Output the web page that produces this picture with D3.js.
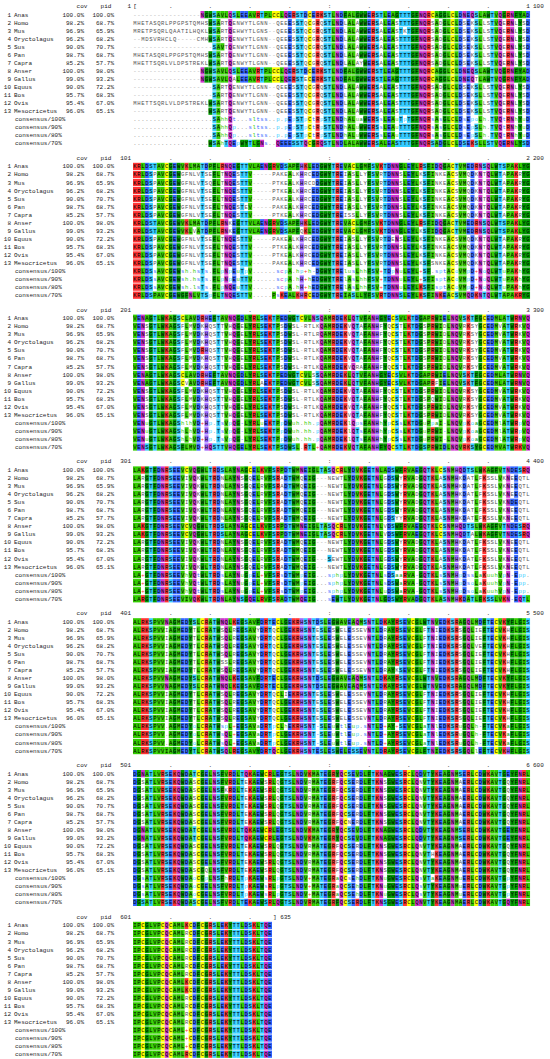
<!DOCTYPE html>
<html>
<head>
<meta charset="utf-8">
<script src="https://cdn.jsdelivr.net/npm/d3@7"></script>
<style>
  body { margin: 0; background: #fff; }
</style>
</head>
<body>
<div id="wrapper"></div>
<script>
// ---- data ----
const names = ["Anas","Homo","Mus","Oryctolagus","Sus","Pan","Capra","Anser","Gallus","Equus","Bos","Ovis","Mesocricetus"];
const cov = ["100.0%","98.2%","96.9%","96.2%","90.0%","98.7%","85.2%","100.0%","99.0%","90.0%","95.7%","95.4%","96.0%"];
const pid = ["100.0%","68.7%","65.9%","68.2%","70.7%","68.7%","57.7%","98.0%","93.2%","72.2%","68.3%","67.0%","65.1%"];
const consensusLabels = ["consensus/100%","consensus/90%","consensus/80%","consensus/70%"];
const thresholds = [1.0, 0.9, 0.8, 0.7];
const blockStarts = [1, 101, 201, 301, 401, 501, 601];
const alnLength = 635;

// sequences, one string per block of 100 columns ("." = same as Anas)
const Anas = [
  "---------- -------NGW SAVLQSLEEA VRTPLCCLQE RSTDCERKST LNDFALGWWE RSTLEAGTTT GFNQRCAGGL CLDNEQSLAW TVQGRNFYAD",
  "KRLDSTAVCG EWVKLMATDP FLRNQEGTTV LAENGRVDSA PFHKLEDGWY TREVACLGMF SVKTDNNGLE YLRSFIDQGA CTVMEDRNSQ LWTSPAKLYG",
  "VENAGTLWKA GSCLAVDRHE FTAVNQGDLY RLSEKTPEDW GTCVLNSQAM RDEKLQTVFA NHGYECSVLK TDGAPRWIEL NQVSKTFGCE DMLATWRNVQ",
  "LAKGTFDNRS EEVCVQGWLT RDSLAYNAGC ELKVFSRPDT WMNEIGLTAS QCRLYDVKGE TNLADSWFRV AEGQTKLCSN MHQDTSLWKA GFVTNDESRQ",
  "ALRKSPVVNA GMEDYSLCRA TWNQLKEGSA VFDRTECLGE KRHSNTDSLE GWAVEAQMSN TLDKAYRSEV CGLWTNVEDK SRAGQLMDFT ECVKYFLGIS",
  "DGNATLVRSE KQWDATCGEL NSFVRDLTQK AEWCRLEGTS LNDVKMATEG RYQCSEVDLF TKNAGWESRC LQDVTYKEAG NMSERLCDWK AVTGEYFNRL",
  "IPCGLVPCQC AMLKCDFCGR SLEKYTTLDS KLTQE"
];
const Homo = [
  "MHETASQRLP PGPSTQMHS. ..RT.ENWYT LGNN--QEE. S..Q.G.Q.. ...L..A... ..A...S... .....S.D.. ...S.K..LS ...E..L.S.",
  ".....P.... ..GFNLV.SE ..T...S... -----PAKE. LK.RCE.... ...I.S.LY. ..R....S.. ..K...NKE. .S..Q.K.T. ...A...R..",
  "...S...... ..F.M..K.Q S.T.H..E.. .......S.. SL-RTLK... ....V..A.. ..F.Q..T.. ...S....D. ...R.SY... ..V....K..",
  "..R....... ...I..K... ..N....S.Q ..R....A.. ..Q...---N EWT....... ...G...Y.. .D.....A.. ..K.AT.F.S SL.K.E.QTL",
  "........I. .....T.... ..S..R.... .Y...Q.... ......E... S.EL.SSEV. ...R...... ...F..I... ..S...IE.. ....H.....",
  "..S....... .....S.... ........E. ...S..Q... ....R..... .F....R... ...S...... ..N....... ..A....... ....Q.....",
  ".......... ...R...... .......... ....."
];
const Mus = [
  "MRETPSQRLQ AATILHQKL. ..RT.EHWYT LGNS--QEE. S..Q.G.Q.. ...L..A... ..A...S.K. .....S.D.. ...S.K..LS ...E..L.S.",
  ".....P.... ..GFNLV.SQ ..T...S... -----PTKE. LK.RCD.... ...I.S.LY. ..R....S.. ..K...NKE. .S..Q.K.T. ...A...R..",
  "...S...... ..F.M..K.Q S.T.H..E.. .......S.. SL-RTLR... ....V..A.. ..F.Q..T.. ...S....D. ...R.SY... ..V....K..",
  "..R....... ...I..K... ..N....S.Q ..R....A.. ..Q...---N EWT....... ...G...Y.. .D.....A.. ..K.AT.F.S SL.K.E.QTL",
  "........I. .....T.... ..S..R.... .Y...Q.... ......E... S.EL.SSEV. ...R...... ...F..I... ..S...IE.. ....H.....",
  "..S....... .....S.... ...K....E. ...S..Q... ....R..... .F....R... ...S...... ..N....... ..A....... ....Q.....",
  ".......... ...R...... .......... ....."
];
const Oryctolagus = [
  "--MDSVRHCL Q-----CMH. ..RT.ENWYT LGNN--QEE. S..Q.G.Q.. ...L..A... ..A...S... .....S.D.. ...S.K..LS ...E..L.S.",
  ".....P.... ..GFNLV.SE ..T...S... -----PTKE. LK.RCE.... ...I.S.LY. ..R....S.. ..K...NKE. .S..Q.K.T. ...A...R..",
  "...S...... ..F.M..K.Q S.T.H..E.. .......S.. SL-RTLK... ....V..A.. ..F.Q..T.. ...S....D. ...R.SY... ..V....K..",
  "..R....... ...I..K... ..N....S.Q ..R....A.. ..Q...---N EWT....... ...G...Y.. .D.....A.. ..K.ATLF.S SL.K.E.QTL",
  "........I. .....T.... ..S..R.... .Y...Q.... ......E... S.EL.SSEV. ...R...... ...F..I... ..S...VE.. ....H.....",
  "..S....... .....S.... ........E. ...S..Q... ....R..... .F....R... ...S...... ..N....... ..A....... ....Q.....",
  ".......... ...R...... .......... ....."
];
const Sus = [
  "---------- ---------- ...T.ENWYT LGNN--QEE. S..Q.G.Q.. ...L..A... ..A...S... .....S.D.. ...S.K..LS ...E..L.S.",
  ".....P.... ..GFNLV.SE ..T...S... -----PAKE. LK.RCE.... ...I.S.LY. ..R....S.. ..K...NKE. .S..Q.K.T. ...A...R..",
  "...S...... ..F.M..R.Q S.T.H..E.. .......S.. SL-RTLK... ....V..A.. ..F.Q..T.. ...S....D. ...R.SY... ..V....K..",
  "..R....... ...I..K... ..N....S.Q ..R....A.. ..Q...---N EWT....... ...G...Y.. .D.....A.. ..K.AT.F.S SL.K.D.QTL",
  "........I. .....T.... ..S..R.... .Y...Q.... ......E... S.EL.SSEV. ...R...... ...F..I... ..S...IE.. ....H.....",
  "..S....... .....S.... ........E. ...S..Q... ....R..... .F....R... ...S...... ..N....... ..A....... ....Q.....",
  ".......... ...R...... .......... ....."
];
const Pan = [
  "MHETASQRLP PGPSTQMHS. ..RT.ENWYT LGNN--QEE. S..Q.G.Q.. ...L..A... ..A...S... .....S.D.. ...S.K..LS ...E..L.S.",
  ".....P.... ..GFNLV.SE ..T...S.E. -----PAKE. LK.RCE.... ...I.S.LY. ..R....S.. ..K...NKE. .S..Q.K.T. ...A...R..",
  "...S...... ..F.M..K.Q S.T.H..E.. .......S.. SL-RTLK... ....V..A.. ..F.Q..T.. ...S....D. ...R.SY... ..V....K..",
  "..R....... ...I..K... ..N....S.Q ..R....A.. ..Q...---N EWT....... ...G...Y.. .D.....A.. ..K.AT.F.S SL.K.E.QTL",
  "........I. .....T.... ..SS.R.... .Y...Q.... ......E... S.EL.SSEV. ...R...... ...F..I... ..S...IE.. ....H.....",
  "..S....... .....S.... ........E. ...S..Q... ....R..... .F....R... ...S...... ..N....... ..A....... ....Q.....",
  ".......... ...R...... .......... ....."
];
const Capra = [
  "MHETTSQRLV LDPSTREKL. ..RT.ENWYT LGNN--QEE. S..Q.G.Q.. ...L..AY.. ..A...S... .....S.D.. ...S.K..LS ...E..L.S.",
  ".....P.... ..GFNLV.SE ..T...S... -----PTKE. LK.RCE.... ...ISS.LY. ..R....S.. ..K...NKE. .S..Q.K.T. ...A...R..",
  "...S...... ..F.M..K.Q S.T.H..E.. .......S.. SL-RTLK... ....V.RA.. ..F.Q..T.. ...S....D. ...R.SY... ..V....K..",
  "..R....... ...I..K... ..N....S.Q ..R....A.. ..Q...---N EWT....... ...G..YY.. .D.....A.. ..K.AT.F.S SL.K.E.QTL",
  "........I. .....T.... ..S..R.... .Y...Q.... ......E... S.EL.SSEV. ...R..K... ...F..I... ..S...IE.. ....H.....",
  "..S....... .....S.... ........E. ...S..Q... ....R..... .F..N.R... ...S...... ..N....... ..A....... ....Q.....",
  ".......... ...R...... .......... ....."
];
const Anser = [
  "---------- -------... .......... .......... .......... .......... .......... .......... .......... ..........",
  ".......... .......... ....K..... .......... .......... .......... .......... .......... .......... ..........",
  ".......... .......... .......... .......... .....S.... .......... .......... .......... .......... ..........",
  ".......... .......... .......... .......... .......... .......... ...V...... .......... .......... ..........",
  ".......... .......... .......... .......... .......... .......... .......... .......... .......... ..........",
  ".......... .......... .......... .......... .......... .......... .......... .......... .......... ..........",
  ".......... .......... .......... ....."
];
const Gallus = [
  "---------- -------... .....A.... .......... ...E...... .......... .......... .......... ......T... ..........",
  ".......... .....V.... ....K..... .......... ..Q....... .......... .......... ..K....... .......... ..........",
  ".......... ...V...... .......... ..A....... .....S.... .......... .......... ......F... .......... ..........",
  ".......... .......... .......... .......... .......... .......... ...V...... .......... .....A.... ..........",
  ".......... .......... .......... .......... .......... .......... .......... .......... .......... ..........",
  ".......... .......... .......... .......... .......... .......... .......... .......... .......... ..........",
  ".......... .......... .......... ....."
];
const Equus = [
  "---------- ---------- ..RT.ENWYT LGNN--QEE. S..Q.G.Q.. ...L..A... ..A...S... .....S.D.. ...S.K..LS ...E..L.S.",
  ".....P.... ..GFNLV.SE ..T...S... -----PAKE. LK.RCE.... ...I.S.LY. ..R..E.S.. ..K...NKE. .S..Q.K.T. ...A...R..",
  "...S...... ..F.M..K.Q S.T.H..E.. .......S.. SL-RTLK... ....V..A.. ..F.Q..T.. ...S....D. ...R.SY... ..V....K..",
  "..R....... ...I..K... ..N....S.Q ..R....A.. ..Q...---N EWT....... ...G...Y.. .D.....A.. ..K.AT.F.S SL.K.E.QTL",
  "........I. .....T.... ..S..R.... .Y...Q..I. ......E... S.EL.SSEV. ...R...... ...F..I... ..S...IE.. ....H.....",
  "..S....... .....S.... ........E. ...S..Q... ....R..... .F....R... ...S...... ..N....... ..A....... ....Q.....",
  ".......... ...R...... .......... ....."
];
const Bos = [
  "---------- ---------- ..RT.ENWYT LGNN--QEE. S..Q.G.Q.. ...L..A... ..A...S... .....S.D.. ...S.K..LS ...E..L.S.",
  ".....P.... ..GFNLV.SE ..T...S... -----PTKE. LK.RCE.... ...I.S.LY. ..R....S.. ..K...NKE. .S..Q.K.T. ...A...R..",
  "...S...... ..F.M..K.Q S.T.H..E.. .......S.. SL-RTLK... ....V..A.. ..F.Q..T.. ...S.Q..D. ...R.SY... ..V....K..",
  "..R....... ...I..K... ..N....S.Q ..R....A.. ..Q...---N EWT....... ...G...Y.. .D.....A.. ..K.AT.F.S SL.K.E.QTL",
  "........I. .....T.... ..S..R.... .Y...Q.... ......E... S.EL.SSEV. ...R...... ...F..I... ..S...IE.. ....H.....",
  "..S....... .....S.... ........E. ...S..Q... ....R..... .F....R... ...S...... ..N..H.... ..A....... ....Q.....",
  ".......... ...R...... .......... ....."
];
const Ovis = [
  "MHETTSQRLV LDPSTREKL. ..RT.ENWYT LGNN--QEE. S..Q.G.Q.. ...L..A... ..A...S... .....S.D.. ...S.K..LS ...E..L.S.",
  ".....P.... ..GFNLV.SE ..T...S... -----PTKE. LK.RCE.... ...I.S.LY. ..R....S.. ..K...NKE. .S..Q.K.T. ...A...R..",
  "...S...... ..F.M..K.Q S.T.H..E.. .......S.. SL-RTLK... ....V..A.. ..F.Q..T.. ...S....D. ...R.SY... ..V....K..",
  "..R....... ...I..K... ..N....S.Q ..R....A.. ..Q...---S EWT....... ...G...Y.. .D.....A.. ..K.AT.F.S SL.K.E.QTL",
  "........I. .....T.... ..S..R.... .Y...Q.... ......E... S.EL.SSEV. ...R...... ...F..I... ..S...IE.. ....H.....",
  "..S....... .....S.... ........E. ...S..Q... ....R..... .F....R... ...S...... ..N....... ..A....... ....Q.....",
  ".......... ...R...... .......... ....."
];
const Mesocricetus = [
  "---------- ---------. ..RT.ENWYT LGNN--QEE. S..Q.G.Q.. ...L..A... ..A...S... .....S.D.. ...S.K..LS ...E..L.S.",
  ".....P.... ..GFNLV.SE ..T...S... -----PAKE. LK.RCE.... ...I.S.LY. ..R....S.. ..K..SNKE. .S..Q.K.T. ...A...R..",
  "...S...... ..F.M..K.Q S.T.H..E.. .......S.. SL-RTLK... ....V..A.. ..F.Q..T.. ...S....D. ...R.SY... ..V....K..",
  "..R....... ...I..K... ..N....S.Q ..R....A.. ..Q...---N EWT....... ...G...Y.. .D.....A.. ..K.AT.F.S SL.K.E.QTL",
  "........I. .....T.... ..S..R.... .Y...Q.... ......E... S.EL.SSEV. ...R...... ...F..I... ..S...IE.. ....H.....",
  "..S....... .....S..Q. ........E. ...S..Q... ....R..... .F....R... ...S...... ..N....... ..A....... ....Q.....",
  ".......... ...R...... .......... ....."
];

const rows = [Anas, Homo, Mus, Oryctolagus, Sus, Pan, Capra, Anser, Gallus, Equus, Bos, Ovis, Mesocricetus];

// ---- colours ----
const resColor = {
  A:"#33cc00", I:"#33cc00", L:"#33cc00", M:"#33cc00", V:"#33cc00", P:"#33cc00",
  F:"#009900", W:"#009900", Y:"#009900", G:"#009900",
  K:"#ff3333", R:"#ff3333",
  D:"#3366ff", E:"#3366ff",
  S:"#33ccff", T:"#33ccff",
  N:"#cc33cc", Q:"#cc33cc",
  H:"#9966ff", C:"#ffff00"
};
const classes = [
  ["o","ST","#33ccff"], ["-","DE","#3366ff"], ["l","ILV","#33cc00"], ["+","HKR","#ff3333"],
  ["u","AGS","#33cc00"], ["a","FHWY","#009900"], ["c","DEHKR","#cc33cc"], ["s","ACDGNPSTV","#3366ff"],
  ["p","CDEHKNQRST","#33ccff"], ["t","ACDEGHKNQRST","#3366ff"], ["h","ACFGHIKLMRTVWY","#33cc00"]
];
const classColor = Object.fromEntries(classes.map(c => [c[0], c[2]]));

// ---- prepare ----
const ref = Anas.join("").replace(/ /g, "");
const seqs = rows.map(r => {
  const s = r.join("").replace(/ /g, "");
  return Array.from(s).map((c, j) => c === "." ? ref[j] : c);
});

const consensus = thresholds.map(t => d3.range(alnLength).map(j => {
  const col = seqs.map(s => s[j] || "-").filter(c => c !== "-");
  const n = seqs.length;
  const counts = d3.rollup(col, v => v.length, c => c);
  let best = null, bestN = 0;
  counts.forEach((v, k) => { if (v > bestN) { bestN = v; best = k; } });
  if (best && bestN / n >= t) return best;
  for (const [sym, set] of classes) {
    const m = col.filter(c => set.includes(c)).length;
    if (m / n >= t) return sym;
  }
  return ".";
}));

// ---- layout ----
const width = 550, height = 1059;
const colX0 = 133, colW = 3.97;
const blockPitch = 151.8, rowPitch = 8;
const font = "'Liberation Mono', 'DejaVu Sans Mono', monospace";

const svg = d3.select("#wrapper").append("svg")
  .attr("width", width).attr("height", height)
  .style("font-family", font);

const x = d3.scaleBand().domain(d3.range(100)).range([colX0, colX0 + 100 * colW]);

blockStarts.forEach((start, b) => {
  const top = b * blockPitch;
  const len = Math.min(100, alnLength - start + 1);
  const cols = d3.range(len);
  const y = d3.scaleBand().domain(d3.range(17))
    .range([top + 11, top + 11 + 17 * rowPitch]).paddingInner(0.1);
  const g = svg.append("g");

  // header
  const head = g.append("g").attr("font-size", 6).attr("fill", "#222");
  head.append("text").attr("x", 82).attr("y", top + 8).attr("text-anchor", "middle").text("cov");
  head.append("text").attr("x", 106).attr("y", top + 8).attr("text-anchor", "middle").text("pid");
  head.append("text").attr("x", 131).attr("y", top + 8).attr("text-anchor", "end").text(start);
  const marks = cols.map(k => {
    const p = start + k;
    if (p === 1) return "[";
    if (p % 100 === 0) return String(p / 100);
    if (p % 50 === 0) return ":";
    if (p % 10 === 0) return ".";
    return "";
  });
  head.selectAll("text.tick").data(cols.filter(k => marks[k])).join("text")
    .attr("class", "tick")
    .attr("x", k => x(k) + x.bandwidth() / 2)
    .attr("y", top + 8).attr("text-anchor", "middle")
    .text(k => marks[k]);
  const endPos = start + len - 1;
  if (endPos === alnLength) {
    head.append("text").attr("x", x(len - 1) + x.bandwidth() + 1).attr("y", top + 8).text("] " + endPos);
  } else {
    head.append("text").attr("x", x(len - 1) + x.bandwidth() + 3).attr("y", top + 8).text(endPos);
  }

  // labels
  const lab = g.append("g").attr("font-size", 6).attr("fill", "#222");
  names.forEach((nm, i) => {
    const yc = y(i) + y.bandwidth() / 2 + 2;
    lab.append("text").attr("x", 11).attr("y", yc).attr("text-anchor", "end").text(i + 1);
    lab.append("text").attr("x", 14).attr("y", yc).text(nm);
    lab.append("text").attr("x", 84).attr("y", yc).attr("text-anchor", "end").text(cov[i]);
    lab.append("text").attr("x", 114).attr("y", yc).attr("text-anchor", "end").text(pid[i]);
  });
  consensusLabels.forEach((nm, c) => {
    lab.append("text").attr("x", 15).attr("y", y(13 + c) + y.bandwidth() / 2 + 2).text(nm);
  });

  // sequence cells
  const cells = [];
  seqs.forEach((s, r) => {
    cols.forEach(k => {
      const j = start - 1 + k;
      const ch = s[j] || "-";
      const on = ch !== "-" && (r === 0 || ch === ref[j]);
      cells.push({ r, k, ch, fill: on ? (resColor[ch] || null) : null,
        color: ch === "-" ? "#aaa" : (on ? "#000" : "#555") });
    });
  });
  consensus.forEach((cs, c) => {
    cols.forEach(k => {
      const ch = cs[start - 1 + k];
      const isRes = /[A-Z]/.test(ch);
      cells.push({ r: 13 + c, k, ch,
        fill: isRes ? resColor[ch] : null,
        color: isRes ? "#000" : (ch === "." ? "#888" : classColor[ch]) });
    });
  });

  g.append("g").selectAll("rect").data(cells.filter(d => d.fill)).join("rect")
    .attr("x", d => x(d.k)).attr("y", d => y(d.r))
    .attr("width", x.bandwidth() + 0.05).attr("height", y.bandwidth())
    .attr("fill", d => d.fill);

  g.append("g").attr("font-size", 5.6).attr("text-anchor", "middle")
    .selectAll("text").data(cells).join("text")
    .attr("x", d => x(d.k) + x.bandwidth() / 2)
    .attr("y", d => y(d.r) + y.bandwidth() / 2 + 2)
    .attr("fill", d => d.color)
    .text(d => d.ch);
});
</script>
</body>
</html>
